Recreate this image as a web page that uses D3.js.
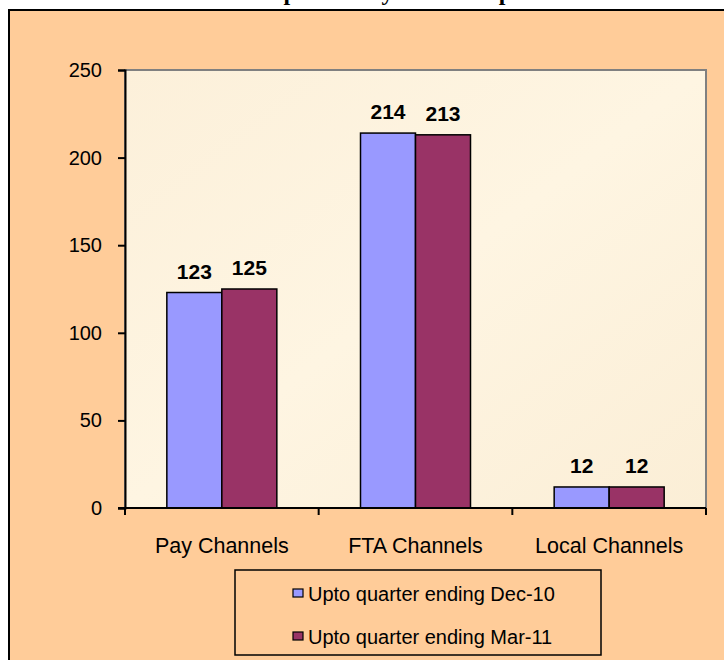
<!DOCTYPE html>
<html>
<head>
<meta charset="utf-8">
<script src="https://cdn.jsdelivr.net/npm/d3@7"></script>
<style>
  html, body { margin: 0; padding: 0; background: #ffffff; }
  svg { display: block; }
</style>
</head>
<body>
<svg id="chart" width="724" height="660"></svg>
<script>
// Channel counts per category for two reporting quarters
const categories = ["Pay Channels", "FTA Channels", "Local Channels"];
const seriesNames = ["Upto quarter ending Dec-10", "Upto quarter ending Mar-11"];
const dec10 = [123, 214, 12];
const mar11 = [125, 213, 12];
const yTicks = [0, 50, 100, 150, 200, 250];
const seriesColors = ["#9999FF", "#993366"];
const titleText = "Number of Channels Operated by Private Operators in CAS Areas";

const svg = d3.select("#chart");
const W = 724, H = 660;
const sans = "'Liberation Sans', Arial, sans-serif";

// Outer chart frame
svg.append("rect")
  .attr("x", 9).attr("y", 10)
  .attr("width", W + 10).attr("height", H + 10)
  .attr("fill", "#FFCC99")
  .attr("stroke", "#000").attr("stroke-width", 2);

// Title (sits above the frame)
svg.append("text")
  .attr("x", 46).attr("y", 0)
  .attr("font-family", "'Liberation Serif', serif")
  .attr("font-weight", "bold")
  .attr("font-size", 24)
  .attr("fill", "#000")
  .text(titleText);

const plot = { left: 125, right: 706, top: 70, bottom: 508 };

// Plot area background
const defs = svg.append("defs");
const grad = defs.append("linearGradient").attr("id", "plotBg")
  .attr("x1", "0").attr("y1", "0").attr("x2", "1").attr("y2", "1");
grad.append("stop").attr("offset", "0%").attr("stop-color", "#FCF0DA");
grad.append("stop").attr("offset", "50%").attr("stop-color", "#FEF5E2");
grad.append("stop").attr("offset", "100%").attr("stop-color", "#FBEED6");

svg.append("rect")
  .attr("x", plot.left).attr("y", plot.top)
  .attr("width", plot.right - plot.left).attr("height", plot.bottom - plot.top)
  .attr("fill", "url(#plotBg)")
  .attr("stroke", "#808080").attr("stroke-width", 2);

// Scales
const x0 = d3.scaleBand().domain(categories).range([plot.left, plot.right]).paddingInner(0).paddingOuter(0);
const x1 = d3.scaleBand().domain(seriesNames).range([0, 110]);
const y = d3.scaleLinear().domain([0, 250]).range([plot.bottom, plot.top]);

const data = categories.map((c, i) => ({ cat: c, values: [dec10[i], mar11[i]] }));

// Bars
const groups = svg.append("g").selectAll("g").data(data).join("g")
  .attr("transform", d => `translate(${x0(d.cat) + (x0.bandwidth() - 110) / 2},0)`);

groups.selectAll("rect").data(d => d.values.map((v, k) => ({ v, k }))).join("rect")
  .attr("x", d => x1(seriesNames[d.k]))
  .attr("y", d => y(d.v))
  .attr("width", x1.bandwidth())
  .attr("height", d => y(0) - y(d.v))
  .attr("fill", d => seriesColors[d.k])
  .attr("stroke", "#000").attr("stroke-width", 1.5);

// Value labels
groups.selectAll("text").data(d => d.values.map((v, k) => ({ v, k }))).join("text")
  .attr("x", d => x1(seriesNames[d.k]) + x1.bandwidth() / 2)
  .attr("y", d => y(d.v) - 14)
  .attr("text-anchor", "middle")
  .attr("font-family", sans)
  .attr("font-weight", "bold")
  .attr("font-size", 21)
  .attr("fill", "#000")
  .text(d => d.v);

// Y axis
const yAxis = svg.append("g")
  .attr("transform", `translate(${plot.left},0)`)
  .call(d3.axisLeft(y).tickValues(yTicks).tickSize(7).tickPadding(16));
yAxis.select(".domain").attr("stroke", "#000").attr("stroke-width", 2);
yAxis.selectAll(".tick line").attr("stroke", "#000").attr("stroke-width", 2);
yAxis.selectAll(".tick text")
  .attr("font-family", sans)
  .attr("font-size", 20).attr("fill", "#000");

// X axis with ticks at category boundaries
const xAxisG = svg.append("g").attr("transform", `translate(0,${plot.bottom})`);
xAxisG.append("line")
  .attr("x1", plot.left - 7).attr("x2", plot.right)
  .attr("stroke", "#000").attr("stroke-width", 2);
const boundaries = categories.map(c => x0(c)).concat([x0(categories[categories.length - 1]) + x0.bandwidth()]);
xAxisG.selectAll("line.tick").data(boundaries).join("line")
  .attr("class", "tick")
  .attr("x1", d => d).attr("x2", d => d)
  .attr("y1", 0).attr("y2", 7)
  .attr("stroke", "#000").attr("stroke-width", 2);
xAxisG.selectAll("text").data(categories).join("text")
  .attr("x", d => x0(d) + x0.bandwidth() / 2)
  .attr("y", 45)
  .attr("text-anchor", "middle")
  .attr("font-family", sans)
  .attr("font-size", 21.5).attr("fill", "#000")
  .text(d => d);

// Legend
const legend = svg.append("g");
legend.append("rect")
  .attr("x", 235).attr("y", 570)
  .attr("width", 366).attr("height", 85)
  .attr("fill", "none")
  .attr("stroke", "#000").attr("stroke-width", 1.5);
const items = legend.selectAll("g").data(seriesNames).join("g")
  .attr("transform", (d, i) => `translate(293,${593 + i * 43})`);
items.append("rect")
  .attr("x", 0).attr("y", -4)
  .attr("width", 10).attr("height", 8)
  .attr("fill", (d, i) => seriesColors[i])
  .attr("stroke", "#000").attr("stroke-width", 1.2);
items.append("text")
  .attr("x", 15).attr("y", 8)
  .attr("font-family", sans)
  .attr("font-size", 20).attr("fill", "#000")
  .text(d => d);
</script>
</body>
</html>
